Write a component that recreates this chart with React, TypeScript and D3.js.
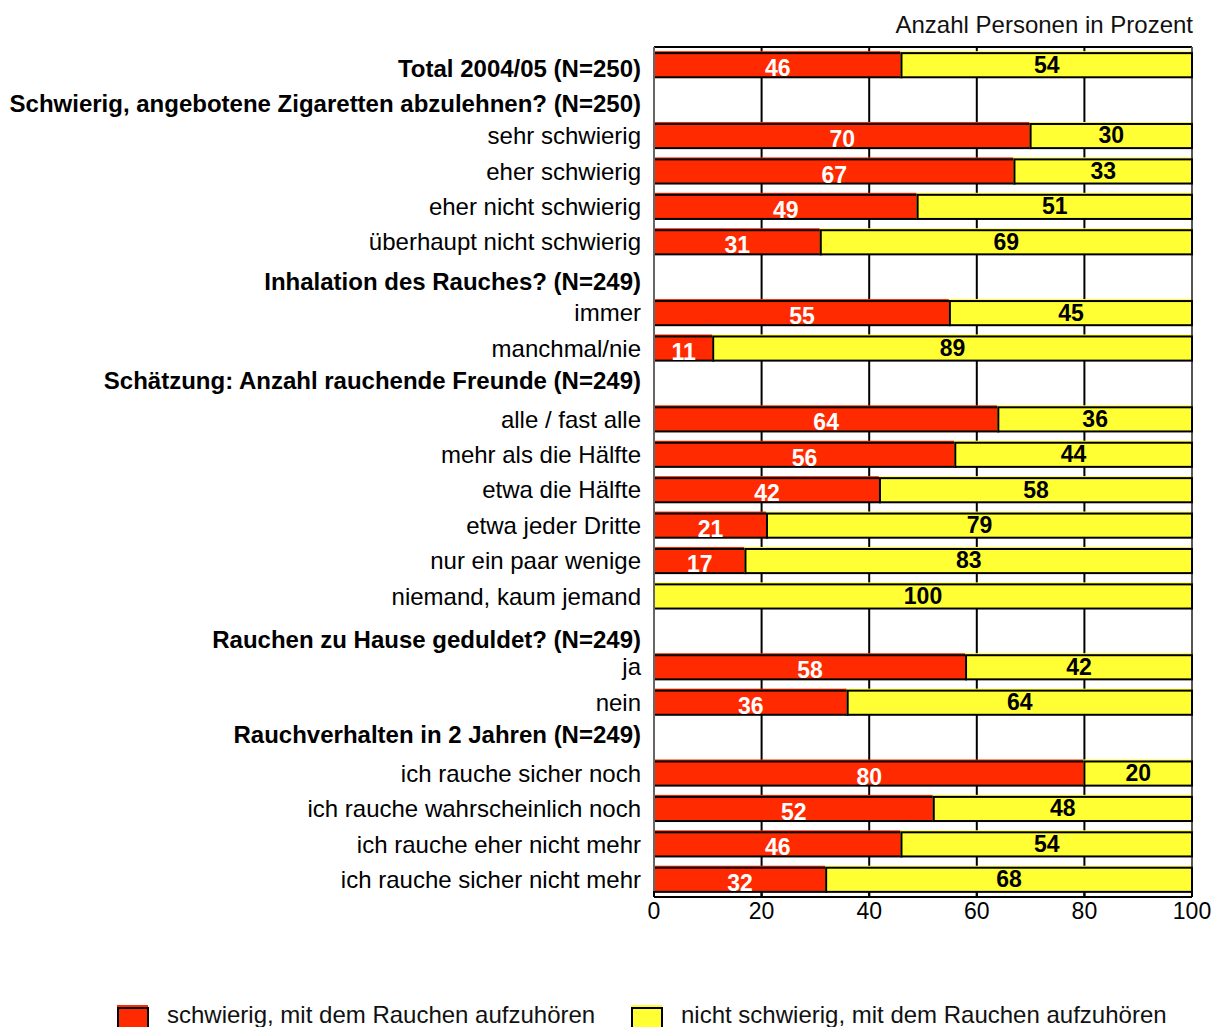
import React from "react";
import * as d3 from "d3";

const rowLabels = [
  "Total 2004/05 (N=250)",
  "Schwierig, angebotene Zigaretten abzulehnen? (N=250)",
  "sehr schwierig",
  "eher schwierig",
  "eher nicht schwierig",
  "überhaupt nicht schwierig",
  "Inhalation des Rauches? (N=249)",
  "immer",
  "manchmal/nie",
  "Schätzung: Anzahl rauchende Freunde (N=249)",
  "alle / fast alle",
  "mehr als die Hälfte",
  "etwa die Hälfte",
  "etwa jeder Dritte",
  "nur ein paar wenige",
  "niemand, kaum jemand",
  "Rauchen zu Hause geduldet? (N=249)",
  "ja",
  "nein",
  "Rauchverhalten in 2 Jahren (N=249)",
  "ich rauche sicher noch",
  "ich rauche wahrscheinlich noch",
  "ich rauche eher nicht mehr",
  "ich rauche sicher nicht mehr",
];

const boldRows = [0, 1, 6, 9, 16, 19];

// share "schwierig, mit dem Rauchen aufzuhören"; null = heading row without bar
const hardValues: (number | null)[] = [
  46, null, 70, 67, 49, 31, null, 55, 11, null, 64, 56, 42, 21, 17, 0, null, 58, 36, null, 80, 52, 46, 32,
];
// share "nicht schwierig, mit dem Rauchen aufzuhören"
const easyValues: (number | null)[] = [
  54, null, 30, 33, 51, 69, null, 45, 89, null, 36, 44, 58, 79, 83, 100, null, 42, 64, null, 20, 48, 54, 68,
];

const xTicks = [0, 20, 40, 60, 80, 100];
const seriesNames = ["schwierig, mit dem Rauchen aufzuhören", "nicht schwierig, mit dem Rauchen aufzuhören"];
const seriesColors = ["#ff2a00", "#ffff33"];
const axisTitle = "Anzahl Personen in Prozent";

const W = 1212;
const H = 1027;
const left = 654;
const right = 1192;
const top = 47;
const bottom = 897;
const font = "'Liberation Sans', Arial, Helvetica, sans-serif";
// small vertical nudges (px) for the heading labels
const labelNudge: Record<number, number> = { 0: 4, 1: 3, 6: 4, 9: -3, 16: 8, 19: -3 };

export default function App() {
  const x = d3.scaleLinear().domain([0, 100]).range([left, right]);
  const y = d3
    .scaleBand<number>()
    .domain(d3.range(rowLabels.length))
    .range([top, bottom])
    .paddingInner(0.29)
    .paddingOuter(0.145);
  const bw = y.bandwidth();

  const segments: { row: number; s: number; x0: number; x1: number; v: number }[] = [];
  rowLabels.forEach((_, i) => {
    const a = hardValues[i];
    const b = easyValues[i];
    if (a == null || b == null) return;
    if (a > 0) segments.push({ row: i, s: 0, x0: 0, x1: a, v: a });
    if (b > 0) segments.push({ row: i, s: 1, x0: a, x1: a + b, v: b });
  });

  return (
    <svg
      width={W}
      height={H}
      style={{ position: "absolute", left: 0, top: 0, background: "#fff" }}
      fontFamily={font}
    >
      <rect x={0} y={0} width={W} height={H} fill="#fff" />
      <text x={right + 1} y={33} textAnchor="end" fontSize={24} fill="#111">
        {axisTitle}
      </text>

      {/* grid lines */}
      {xTicks.slice(1, -1).map((t) => (
        <line key={t} x1={x(t)} x2={x(t)} y1={top} y2={bottom} stroke="#000" strokeWidth={2} />
      ))}
      <line x1={left} x2={right} y1={top} y2={top} stroke="#000" strokeWidth={2} />
      <line x1={right} x2={right} y1={top} y2={bottom} stroke="#555" strokeWidth={2} />

      {/* bars */}
      {segments.map((d) => {
        const yy = y(d.row)! + 1;
        const x0 = x(d.x0);
        const w = x(d.x1) - x(d.x0);
        return (
          <g key={`${d.row}-${d.s}`}>
            <rect x={x0 - 1} y={yy - 2} width={w} height={bw + 1} fill={seriesColors[d.s]} />
            <rect x={x0} y={yy} width={w} height={bw - 1} fill={seriesColors[d.s]} stroke="#000" strokeWidth={2} />
          </g>
        );
      })}

      {/* value labels */}
      {segments.map((d) => {
        const yy = y(d.row)! + 1;
        const cx = x((d.x0 + d.x1) / 2);
        return (
          <text
            key={`t${d.row}-${d.s}`}
            x={cx}
            y={d.s === 0 ? yy + bw - 2 : yy + 19.5}
            textAnchor="middle"
            fontSize={23}
            fontWeight="bold"
            fill={d.s === 0 ? "#fff" : "#000"}
          >
            {d.v}
          </text>
        );
      })}

      {/* axes */}
      <line x1={left} x2={left} y1={top} y2={bottom} stroke="#666" strokeWidth={2} />
      <line x1={left} x2={right} y1={bottom} y2={bottom} stroke="#000" strokeWidth={2} />
      {xTicks.map((t) => (
        <g key={`tick${t}`}>
          <line x1={x(t)} x2={x(t)} y1={bottom - 6} y2={bottom} stroke="#000" strokeWidth={2} />
          <text x={x(t)} y={919} textAnchor="middle" fontSize={23} fill="#000">
            {t}
          </text>
        </g>
      ))}

      {/* row labels */}
      {rowLabels.map((label, i) => (
        <text
          key={`l${i}`}
          x={641}
          y={y(i)! + bw / 2 + (labelNudge[i] ?? 0)}
          dy="0.36em"
          textAnchor="end"
          fontSize={24}
          fontWeight={boldRows.includes(i) ? "bold" : "normal"}
          fill="#000"
        >
          {label}
        </text>
      ))}

      {/* legend */}
      {seriesNames.map((name, i) => {
        const lx = i === 0 ? 117 : 631;
        return (
          <g key={`leg${i}`}>
            <rect x={lx} y={1005} width={31} height={26} fill={seriesColors[i]} />
            <rect x={lx + 1} y={1008} width={30} height={24} fill={seriesColors[i]} stroke="#000" strokeWidth={2} />
            <text x={lx + 50} y={1023} fontSize={24} fill="#111">
              {name}
            </text>
          </g>
        );
      })}
    </svg>
  );
}
